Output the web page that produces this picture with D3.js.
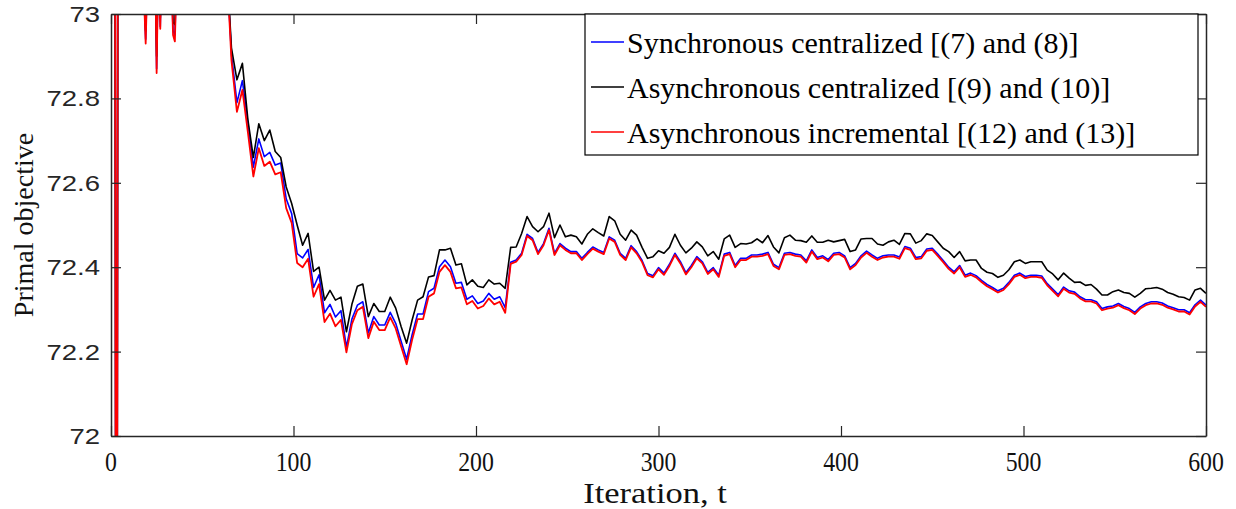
<!DOCTYPE html>
<html><head><meta charset="utf-8">
<script src="https://cdn.jsdelivr.net/npm/d3@7"></script>
<style>body{margin:0;background:#fff}</style>
</head><body>
<svg id="chart" width="1236" height="509"></svg>
<script>
const iterations = [0,1,2,3,4,8,12,16,17,18,19,20,21,24,25,26,27,28,32,33,34,35,36,40,44,48,52,56,60,63,
66,69,72,75,78,81,84,87,90,93,
96,99,102,105,108,111,114,117,120,123,
126,129,132,135,138,141,144,147,150,153,
156,159,162,165,168,171,174,177,180,183,
186,189,192,195,198,201,204,207,210,213,
216,219,222,225,228,231,234,237,240,243,
246,249,252,255,258,261,264,267,270,273,
276,279,282,285,288,291,294,297,300,303,
306,309,312,315,318,321,324,327,330,333,
336,339,342,345,348,351,354,357,360,363,
366,369,372,375,378,381,384,387,390,393,
396,399,402,405,408,411,414,417,420,423,
426,429,432,435,438,441,444,447,450,453,
456,459,462,465,468,471,474,477,480,483,
486,489,492,495,498,501,504,507,510,513,
516,519,522,525,528,531,534,537,540,543,
546,549,552,555,558,561,564,567,570,573,
576,579,582,585,588,591,594,597,600];

const syncCentralized = [74.0,73.8,74.2,70.0,74.5,73.6,73.4,73.3,73.2,73.05,72.94,73.1,73.2,73.2,72.87,73.15,72.97,73.2,73.3,73.1,72.96,72.95,73.1,73.4,73.5,73.5,73.5,73.4,73.3,73.15,
72.905,72.79,72.842,72.742,72.637,72.704,72.662,72.672,72.642,72.647,
72.562,72.527,72.432,72.422,72.442,72.352,72.382,72.292,72.312,72.282,
72.297,72.21,72.277,72.31,72.318,72.244,72.283,72.263,72.263,72.293,
72.267,72.224,72.182,72.24,72.289,72.289,72.342,72.35,72.401,72.417,
72.401,72.362,72.364,72.324,72.332,72.314,72.32,72.338,72.324,72.33,
72.304,72.412,72.417,72.433,72.478,72.468,72.435,72.456,72.492,72.433,
72.456,72.445,72.437,72.437,72.421,72.435,72.448,72.441,72.435,72.472,
72.464,72.433,72.421,72.451,72.437,72.416,72.385,72.38,72.399,72.386,
72.407,72.433,72.413,72.387,72.404,72.425,72.413,72.388,72.399,72.381,
72.431,72.435,72.404,72.421,72.421,72.429,72.429,72.431,72.435,72.407,
72.399,72.433,72.435,72.431,72.429,72.415,72.441,72.423,72.427,72.418,
72.433,72.435,72.427,72.399,72.409,72.427,72.438,72.429,72.421,72.427,
72.429,72.429,72.424,72.449,72.445,72.423,72.425,72.443,72.445,72.431,
72.416,72.40,72.389,72.404,72.381,72.386,72.38,72.369,72.359,72.352,
72.344,72.35,72.364,72.381,72.386,72.378,72.381,72.381,72.379,72.361,
72.348,72.335,72.353,72.344,72.341,72.33,72.323,72.323,72.318,72.302,
72.306,72.308,72.314,72.307,72.302,72.293,72.306,72.314,72.318,72.318,
72.315,72.308,72.304,72.299,72.299,72.292,72.311,72.322,72.31];

const asyncCentralized = [74.0,73.8,74.2,70.0,74.5,73.6,73.4,73.3,73.2,73.05,72.96,73.1,73.2,73.2,72.9,73.15,72.99,73.2,73.3,73.1,72.98,72.975,73.1,73.4,73.5,73.5,73.5,73.4,73.3,73.15,
72.92,72.844,72.883,72.75,72.66,72.74,72.70,72.725,72.674,72.66,
72.59,72.551,72.50,72.452,72.48,72.39,72.40,72.322,72.345,72.322,
72.329,72.247,72.312,72.355,72.36,72.283,72.314,72.295,72.295,72.329,
72.303,72.259,72.22,72.275,72.322,72.33,72.377,72.38,72.441,72.441,
72.445,72.405,72.408,72.358,72.37,72.355,72.352,72.37,72.36,72.362,
72.35,72.447,72.448,72.48,72.52,72.496,72.484,72.496,72.528,72.47,
72.50,72.472,72.476,72.472,72.455,72.478,72.491,72.482,72.474,72.52,
72.51,72.478,72.464,72.488,72.476,72.447,72.421,72.425,72.439,72.433,
72.447,72.478,72.452,72.434,72.445,72.46,72.448,72.427,72.437,72.419,
72.467,72.476,72.447,72.456,72.455,72.458,72.467,72.458,72.475,72.448,
72.434,72.47,72.476,72.464,72.463,72.459,72.474,72.459,72.459,72.464,
72.46,72.463,72.466,72.437,72.441,72.467,72.468,72.468,72.455,72.452,
72.46,72.464,72.454,72.48,72.479,72.457,72.463,72.479,72.475,72.46,
72.445,72.437,72.423,72.437,72.415,72.417,72.417,72.397,72.388,72.385,
72.376,72.381,72.394,72.413,72.417,72.409,72.413,72.413,72.413,72.393,
72.384,72.37,72.386,72.374,72.364,72.365,72.357,72.359,72.348,72.334,
72.334,72.342,72.346,72.34,72.338,72.329,72.338,72.349,72.35,72.352,
72.348,72.34,72.336,72.33,72.328,72.322,72.346,72.35,72.338];

const asyncIncremental = [74.0,73.8,74.2,70.0,74.5,73.6,73.4,73.3,73.2,73.05,72.93,73.1,73.2,73.2,72.86,73.15,72.965,73.2,73.3,73.1,72.95,72.935,73.1,73.4,73.5,73.5,73.5,73.4,73.3,73.15,
72.89,72.768,72.82,72.72,72.615,72.682,72.64,72.65,72.62,72.625,
72.54,72.505,72.41,72.40,72.42,72.33,72.36,72.27,72.29,72.26,
72.275,72.198,72.265,72.298,72.306,72.232,72.271,72.251,72.251,72.281,
72.255,72.212,72.17,72.228,72.277,72.277,72.33,72.338,72.389,72.405,
72.389,72.35,72.352,72.312,72.32,72.302,72.308,72.326,72.312,72.318,
72.292,72.408,72.413,72.429,72.474,72.464,72.431,72.452,72.488,72.429,
72.452,72.441,72.433,72.433,72.417,72.431,72.444,72.437,72.431,72.468,
72.46,72.429,72.417,72.447,72.433,72.412,72.381,72.376,72.395,72.382,
72.403,72.429,72.409,72.383,72.40,72.421,72.409,72.384,72.395,72.377,
72.427,72.431,72.40,72.417,72.417,72.425,72.425,72.427,72.431,72.403,
72.395,72.429,72.431,72.427,72.425,72.411,72.437,72.419,72.423,72.414,
72.429,72.431,72.423,72.395,72.405,72.423,72.434,72.425,72.417,72.423,
72.425,72.425,72.42,72.445,72.441,72.419,72.421,72.439,72.441,72.427,
72.412,72.396,72.385,72.40,72.377,72.382,72.376,72.365,72.355,72.348,
72.34,72.346,72.36,72.377,72.382,72.374,72.377,72.377,72.375,72.357,
72.344,72.331,72.349,72.34,72.337,72.326,72.319,72.319,72.314,72.298,
72.302,72.304,72.31,72.303,72.298,72.289,72.302,72.31,72.314,72.314,
72.311,72.304,72.30,72.295,72.295,72.288,72.307,72.318,72.306];

const seriesNames = ["Synchronous centralized [(7) and (8)]","Asynchronous centralized [(9) and (10)]","Asynchronous incremental [(12) and (13)]"];
const seriesColors = ["#0000ff","#000000","#ff0000"];
const xTicks = [0,100,200,300,400,500,600];
const yTicks = [72,72.2,72.4,72.6,72.8,73];
const yTickLabels = ["72","72.2","72.4","72.6","72.8","73"];
const xLabel = "Iteration, t";
const yLabel = "Primal objective";

const L=111,R=1206,T=14,B=436;
const SERIF="'Liberation Serif','Times New Roman',serif";
const SANS="'Liberation Sans',Arial,sans-serif";
const svg=d3.select("#chart");
const x=d3.scaleLinear().domain([0,600]).range([L,R]);
const y=d3.scaleLinear().domain([72,73]).range([B,T]);

svg.append("defs").append("clipPath").attr("id","clip")
  .append("rect").attr("x",L).attr("y",T).attr("width",R-L).attr("height",B-T);

const series=[syncCentralized,asyncCentralized,asyncIncremental].map((v,i)=>({name:seriesNames[i],values:v,color:seriesColors[i]}));
const line=d3.line().x((d,i)=>x(iterations[i])).y(d=>y(d));

const g=svg.append("g").attr("clip-path","url(#clip)");
series.forEach((s,i)=>{
  g.append("path").attr("d",line(s.values)).attr("fill","none")
   .attr("stroke",s.color).attr("stroke-width",i===2?1.8:1.6).attr("stroke-linejoin","round");
});

const axisColor="#262626";
// bottom axis (ticks inward, labels drawn separately)
svg.append("g").attr("transform",`translate(0,${B})`)
  .call(d3.axisBottom(x).tickValues(xTicks).tickSizeInner(-10).tickSizeOuter(0).tickFormat(""));
svg.append("g").selectAll("text").data(xTicks).join("text")
  .attr("transform",d=>`translate(${x(d)},471) scale(0.85,1)`)
  .attr("text-anchor","middle")
  .style("font-family",SERIF).style("font-size","28px").style("fill","#111")
  .text(d=>d3.format("d")(d));
// top axis
svg.append("g").attr("transform",`translate(0,${T})`)
  .call(d3.axisTop(x).tickValues(xTicks).tickSizeInner(-10).tickSizeOuter(0).tickFormat(""));
// left axis
svg.append("g").attr("transform",`translate(${L},0)`)
  .call(d3.axisLeft(y).tickValues(yTicks).tickSizeInner(-10).tickSizeOuter(0).tickFormat(""));
svg.append("g").selectAll("text").data(yTicks).join("text")
  .attr("transform",d=>`translate(100,${y(d)}) scale(1.25,1)`)
  .attr("text-anchor","end").attr("dominant-baseline","central")
  .style("font-family",SANS).style("font-size","22px").style("fill","#262626")
  .text((d,i)=>yTickLabels[i]);
// right axis
svg.append("g").attr("transform",`translate(${R},0)`)
  .call(d3.axisRight(y).tickValues(yTicks).tickSizeInner(-10).tickSizeOuter(0).tickFormat(""));

svg.selectAll(".domain").attr("stroke",axisColor).attr("stroke-width",1.5);
svg.selectAll(".tick line").attr("stroke",axisColor).attr("stroke-width",1.2);

// axis labels
svg.append("text").attr("transform","translate(655,503) scale(1.15,1)").attr("text-anchor","middle")
  .style("font-family",SERIF).style("font-size","30px").style("fill","#111")
  .text(xLabel);
svg.append("text").attr("transform","translate(33,225) rotate(-90)").attr("text-anchor","middle")
  .style("font-family",SERIF).style("font-size","28px").style("fill","#111")
  .text(yLabel);

// legend
const lg=svg.append("g");
lg.append("rect").attr("x",585).attr("y",14).attr("width",613).attr("height",141)
  .attr("fill","#fff").attr("stroke","#000").attr("stroke-width",1.2);
series.forEach((s,i)=>{
  const yy=42+i*45;
  lg.append("line").attr("x1",591).attr("x2",624).attr("y1",yy).attr("y2",yy)
    .attr("stroke",s.color).attr("stroke-width",1.5);
  lg.append("text").attr("x",627).attr("y",yy).attr("dominant-baseline","central")
    .style("font-family",SERIF).style("font-size","30px").style("fill","#000")
    .text(s.name);
});
</script>
</body></html>
